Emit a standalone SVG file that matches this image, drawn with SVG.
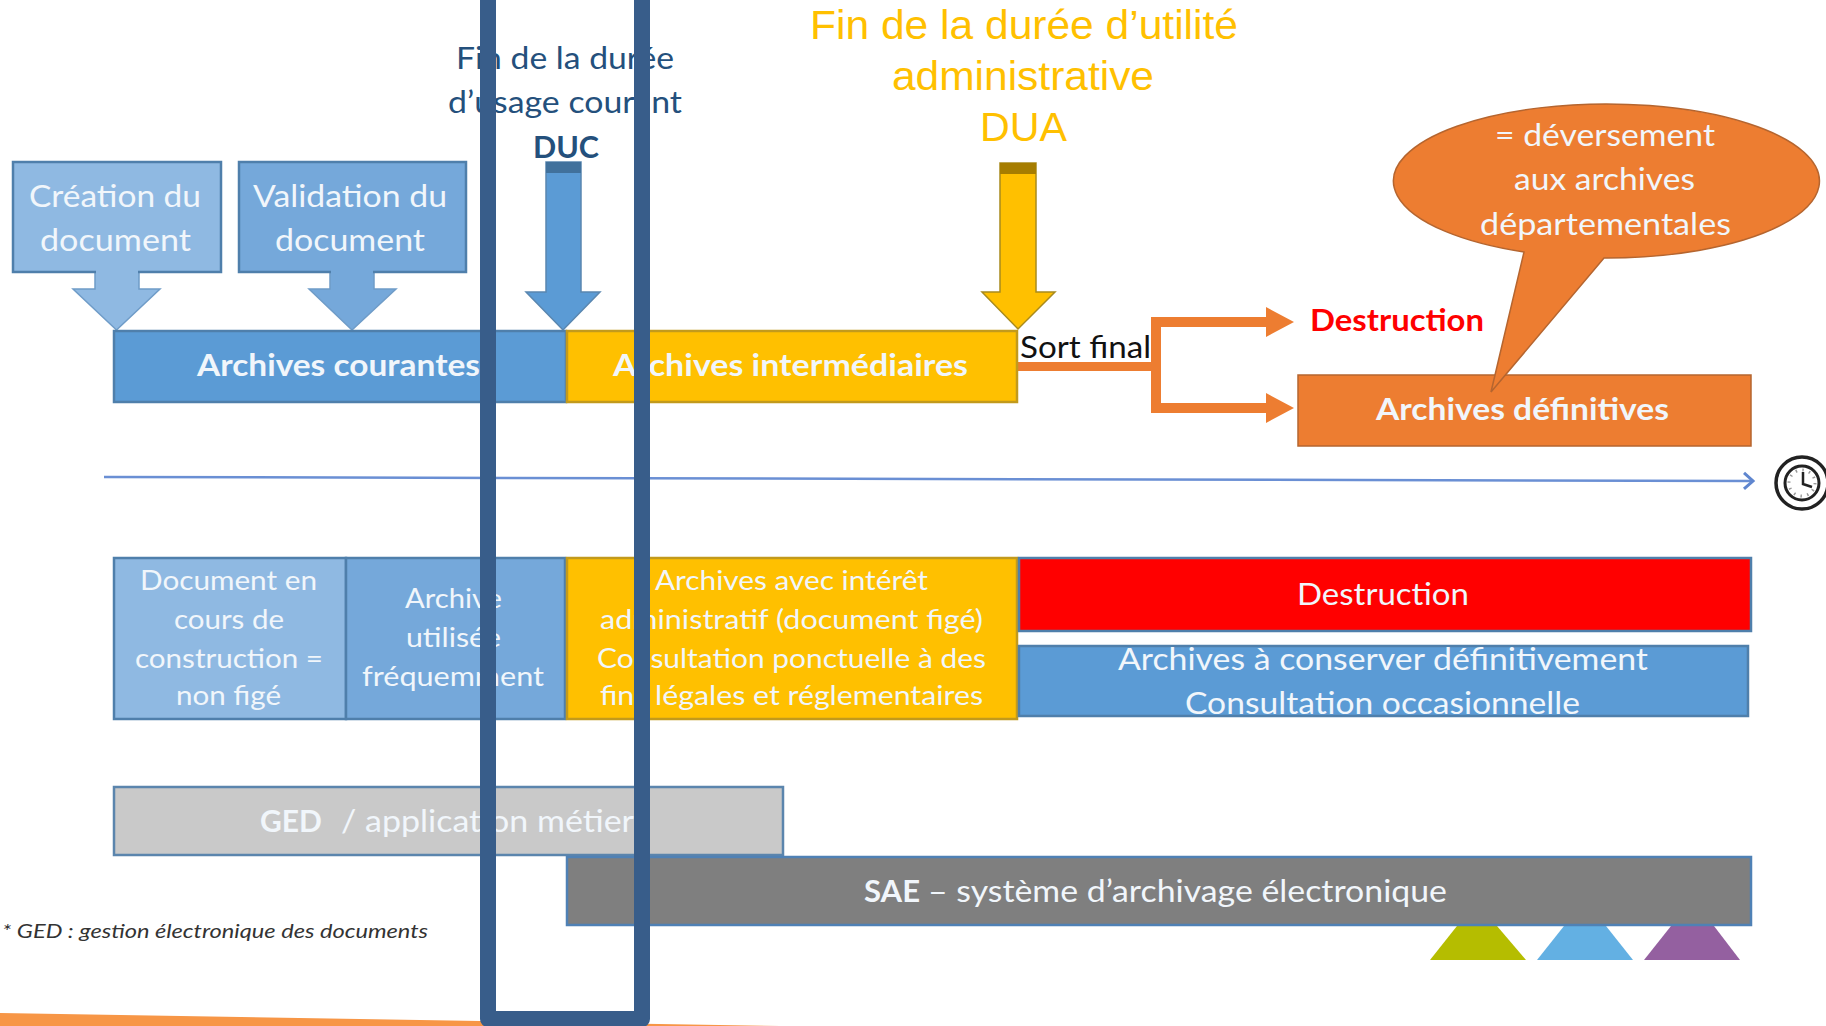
<svg xmlns="http://www.w3.org/2000/svg" width="1826" height="1026" viewBox="0 0 1826 1026">
<style>
text{font-family:"Lato","Carlito","Liberation Sans",sans-serif;font-size:30px;fill:#f1f6fb}
.b{font-weight:700}
.s{font-size:27px}
.y{font-family:"Liberation Sans",Arial,sans-serif;font-size:40px;fill:#ffc000}
.n{fill:#24507c;font-size:31px}
.blue{fill:#5b9bd5;stroke:#4f7fab;stroke-width:2.5}
.pale{fill:#8fb9e2;stroke:#4f7fab;stroke-width:2.5}
.mid{fill:#75a8da;stroke:#4f7fab;stroke-width:2.5}
.arr{stroke:#6f9cc8;stroke-width:1.5}
.gold{fill:#ffc000;stroke:#c29a1c;stroke-width:2.5}
.org{fill:#ed7d31;stroke:#b5652f;stroke-width:1.5}
.conn{fill:#ed7d31;stroke:none}
</style>
<defs>
<marker id="tl" markerWidth="18" markerHeight="20" refX="14" refY="10" orient="auto" markerUnits="userSpaceOnUse"><path d="M5 2 L14 10 L5 18" fill="none" stroke="#5f86cf" stroke-width="3"/></marker>
</defs>
<rect width="1826" height="1026" fill="#ffffff"/>
<polygon points="0,1013 780,1026 0,1026" fill="#f79646"/>

<g id="connectors">
<line x1="104" y1="477" x2="1753" y2="481" stroke="#6a8fd4" stroke-width="2.5" marker-end="url(#tl)"/>
<polygon class="conn" points="1018,362 1151,362 1151,317 1266,317 1266,307 1294,322 1266,337 1266,327 1161,327 1161,403 1266,403 1266,393 1294,408 1266,423 1266,413 1151,413 1151,371 1018,371"/>
</g>

<g id="triangles">
<polygon points="1430,960 1526,960 1497,926 1457,926" fill="#b5bd00"/>
<polygon points="1537,960 1633,960 1606,926 1564,926" fill="#63b0e3"/>
<polygon points="1644,960 1740,960 1714,926 1671,926" fill="#9460a0"/>
</g>

<g id="creation">
<polygon class="pale" style="stroke:none" points="139,272 139,289 160,289 116.5,330 73,289 95,289 95,272"/>
<polyline fill="none" class="arr" points="139,272 139,289 160,289 116.5,330 73,289 95,289 95,272"/>
<rect class="pale" x="13" y="162" width="208" height="110"/>
<rect x="96" y="268" width="42" height="6" fill="#8fb9e2"/>
<text x="29" y="207" textLength="172" lengthAdjust="spacingAndGlyphs">Création du</text>
<text x="40" y="251" textLength="151" lengthAdjust="spacingAndGlyphs">document</text>
</g>
<g id="validation">
<polygon class="mid arr" style="stroke:#6f9cc8;stroke-width:1.5" points="374,272 374,289 396,289 352,330 309,289 330,289 330,272"/>
<rect class="mid" x="239" y="162" width="227" height="110"/>
<rect x="331" y="268" width="42" height="6" fill="#75a8da"/>
<text x="253" y="207" textLength="194" lengthAdjust="spacingAndGlyphs">Validation du</text>
<text x="275" y="251" textLength="150" lengthAdjust="spacingAndGlyphs">document</text>
</g>
<g id="fin-duc">
<text class="n" x="456" y="69" textLength="218" lengthAdjust="spacingAndGlyphs">Fin de la durée</text>
<text class="n" x="448" y="113" textLength="234" lengthAdjust="spacingAndGlyphs">d’usage courant</text>
<text class="n b" x="533" y="158" textLength="66" lengthAdjust="spacingAndGlyphs">DUC</text>
<polygon fill="#5b9bd5" stroke="#5a87b0" stroke-width="1.5" points="546,162 581,162 581,292 600,292 563,330 526,292 546,292"/>
<rect x="546" y="162" width="35" height="11" fill="#41719c"/>
</g>
<g id="fin-dua">
<text class="y" x="810" y="39" textLength="428" lengthAdjust="spacingAndGlyphs">Fin de la durée d’utilité</text>
<text class="y" x="892" y="90" textLength="262" lengthAdjust="spacingAndGlyphs">administrative</text>
<text class="y" x="980" y="141" textLength="87" lengthAdjust="spacingAndGlyphs">DUA</text>
<polygon fill="#ffc000" stroke="#a88a1e" stroke-width="1.5" points="1000,163 1036,163 1036,292 1055,292 1018,329 982,292 1000,292"/>
<rect x="1000" y="163" width="36" height="11" fill="#a67d00"/>
</g>
<g id="courantes">
<rect class="blue" x="114" y="331" width="452" height="71"/>
<text class="b" x="197" y="376" textLength="283" lengthAdjust="spacingAndGlyphs">Archives courantes</text>
</g>
<g id="intermediaires">
<rect class="gold" x="567" y="331" width="450" height="71"/>
<text class="b" x="613" y="376" textLength="355" lengthAdjust="spacingAndGlyphs">Archives intermédiaires</text>
</g>
<g id="sort-final">
<text x="1020" y="358" style="fill:#111" textLength="131" lengthAdjust="spacingAndGlyphs">Sort final</text>
</g>
<g id="destruction-label">
<text class="b" x="1310" y="331" style="fill:#ff0000" textLength="174" lengthAdjust="spacingAndGlyphs">Destruction</text>
</g>
<g id="definitives">
<rect class="org" x="1298" y="375" width="453" height="71"/>
<text class="b" x="1376" y="420" textLength="293" lengthAdjust="spacingAndGlyphs">Archives définitives</text>
</g>
<g id="callout">
<path class="org" d="M1524,252 A213,77 0 1 1 1604,258 L1491,392 Z"/>
<text x="1495" y="146" textLength="220" lengthAdjust="spacingAndGlyphs">= déversement</text>
<text x="1514" y="190" textLength="181" lengthAdjust="spacingAndGlyphs">aux archives</text>
<text x="1480" y="235" textLength="251" lengthAdjust="spacingAndGlyphs">départementales</text>
</g>
<g id="doc-construction">
<rect class="pale" x="114" y="558" width="232" height="161"/>
<text class="s" x="140" y="590" textLength="177" lengthAdjust="spacingAndGlyphs">Document en</text>
<text class="s" x="174" y="629" textLength="110" lengthAdjust="spacingAndGlyphs">cours de</text>
<text class="s" x="135" y="668" textLength="188" lengthAdjust="spacingAndGlyphs">construction =</text>
<text class="s" x="176" y="705" textLength="105" lengthAdjust="spacingAndGlyphs">non figé</text>
</g>
<g id="archive-utilisee">
<rect class="mid" x="346" y="558" width="219" height="161"/>
<text class="s" x="405" y="608" textLength="97" lengthAdjust="spacingAndGlyphs">Archive</text>
<text class="s" x="406" y="647" textLength="95" lengthAdjust="spacingAndGlyphs">utilisée</text>
<text class="s" x="362" y="686" textLength="182" lengthAdjust="spacingAndGlyphs">fréquemment</text>
</g>
<g id="interet-administratif">
<rect class="gold" x="567" y="558" width="450" height="161"/>
<text class="s" x="655" y="590" textLength="273" lengthAdjust="spacingAndGlyphs">Archives avec intérêt</text>
<text class="s" x="600" y="629" textLength="383" lengthAdjust="spacingAndGlyphs">administratif (document figé)</text>
<text class="s" x="597" y="668" textLength="389" lengthAdjust="spacingAndGlyphs">Consultation ponctuelle à des</text>
<text class="s" x="600" y="705" textLength="383" lengthAdjust="spacingAndGlyphs">fins légales et réglementaires</text>
</g>
<g id="destruction">
<rect x="1019" y="558" width="732" height="73" fill="#ff0000" stroke="#4f7fab" stroke-width="2.5"/>
<text x="1297" y="605" textLength="172" lengthAdjust="spacingAndGlyphs">Destruction</text>
</g>
<g id="conserver">
<rect class="blue" x="1019" y="646" width="729" height="70"/>
<text x="1118" y="670" textLength="530" lengthAdjust="spacingAndGlyphs">Archives à conserver définitivement</text>
<text x="1185" y="714" textLength="395" lengthAdjust="spacingAndGlyphs">Consultation occasionnelle</text>
</g>
<g id="ged">
<rect x="114" y="787" width="669" height="68" fill="#c9c9c9" stroke="#5b85ad" stroke-width="2.5"/>
<text class="b" x="260" y="832" textLength="62" lengthAdjust="spacingAndGlyphs">GED</text>
<text x="341" y="832" textLength="293" lengthAdjust="spacingAndGlyphs">/ application métier</text>
</g>
<g id="sae">
<rect x="567" y="857" width="1184" height="68" fill="#7f7f7f" stroke="#4f81b5" stroke-width="2.5"/>
<text class="b" x="864" y="902" textLength="56" lengthAdjust="spacingAndGlyphs">SAE</text>
<text x="928" y="902" textLength="519" lengthAdjust="spacingAndGlyphs">– système d’archivage électronique</text>
</g>
<g id="note">
<text x="2" y="938" style="fill:#333;font-size:20px;font-style:italic" textLength="426" lengthAdjust="spacingAndGlyphs">* GED : gestion électronique des documents</text>
</g>
<g id="clock" fill="none" stroke="#222">
<circle cx="1802" cy="483" r="26" stroke-width="3.5"/>
<circle cx="1802" cy="483" r="17" stroke-width="3"/>
<circle cx="1802" cy="483" r="13" stroke="#999" stroke-width="3" stroke-dasharray="1.5 5.3"/>
<path d="M1803,472 V484 L1812,487" stroke-width="2.5"/>
</g>
<g id="focus-frame">
<rect x="488" y="-30" width="154" height="1049" fill="none" stroke="#385d8a" stroke-width="16" stroke-linejoin="round"/>
</g>
</svg>
